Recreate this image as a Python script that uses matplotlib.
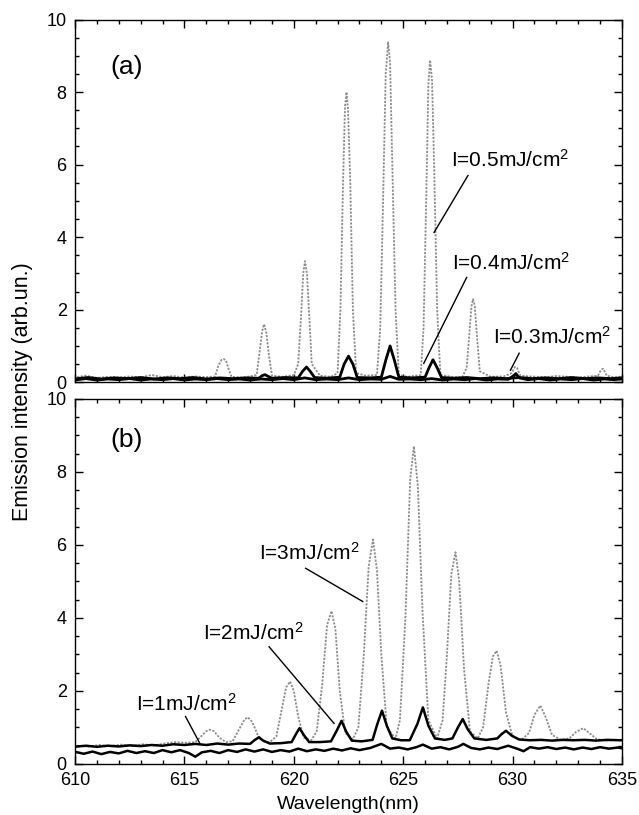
import matplotlib
matplotlib.use("Agg")
import matplotlib.pyplot as plt
from matplotlib.ticker import MultipleLocator

plt.rcParams['font.family'] = ['Liberation Sans', 'DejaVu Sans']
plt.rcParams['mathtext.fontset'] = 'custom'
plt.rcParams['mathtext.rm'] = 'Liberation Sans'
plt.rcParams['mathtext.it'] = 'Liberation Sans'
plt.rcParams['mathtext.default'] = 'regular'

# ---------------- data ----------------
# Panel (a): I = 0.5 mJ/cm^2 (grey)
A_05 = [(610.1,0.14),(610.5,0.18),(611.0,0.12),(611.5,0.15),(612.0,0.13),(612.5,0.16),(613.0,0.13),
        (613.5,0.20),(614.0,0.14),(614.5,0.17),(615.0,0.13),(615.5,0.16),(616.0,0.14),(616.4,0.16),
        (616.55,0.45),(616.7,0.62),(616.8,0.64),(616.9,0.60),(617.0,0.40),(617.15,0.15),(617.6,0.13),
        (618.0,0.16),(618.3,0.20),(618.45,0.90),(618.55,1.40),(618.64,1.60),(618.75,1.35),(618.85,0.80),
        (619.0,0.18),(619.5,0.15),(620.0,0.20),(620.2,0.50),(620.33,1.80),(620.43,3.00),(620.51,3.34),
        (620.6,3.00),(620.7,1.90),(620.82,0.50),(621.2,0.18),(621.7,0.15),(622.0,0.25),(622.13,2.00),
        (622.25,5.50),(622.34,7.60),(622.41,8.00),(622.48,7.50),(622.58,5.50),(622.7,2.00),(622.85,0.25),
        (623.3,0.18),(623.8,0.20),(623.95,1.50),(624.08,5.00),(624.2,8.50),(624.31,9.39),(624.4,8.80),
        (624.52,5.50),(624.65,2.00),(624.8,0.20),(625.2,0.15),(625.8,0.20),(625.93,1.50),(626.05,5.00),
        (626.15,8.20),(626.23,8.88),(626.32,8.30),(626.43,5.50),(626.55,2.00),(626.7,0.20),(627.2,0.15),
        (627.7,0.14),(627.9,0.40),(628.02,1.30),(628.12,2.10),(628.19,2.29),(628.27,2.10),(628.37,1.30),
        (628.5,0.30),(629.0,0.15),(629.6,0.16),(629.95,0.25),(630.1,0.42),(630.2,0.40),(630.35,0.18),
        (630.8,0.16),(631.5,0.14),(632.0,0.17),(632.5,0.15),(633.0,0.13),(633.5,0.16),(633.9,0.18),
        (634.05,0.35),(634.15,0.37),(634.3,0.18),(634.6,0.14),(635.0,0.15)]

# Panel (a): I = 0.4 mJ/cm^2 (black)
A_04 = [(610.1,0.10),(610.6,0.13),(611.2,0.09),(611.8,0.12),(612.4,0.10),(613.0,0.13),(613.6,0.09),
        (614.2,0.12),(614.8,0.10),(615.4,0.13),(616.0,0.09),(616.6,0.12),(617.2,0.10),(617.8,0.12),
        (618.4,0.11),(618.55,0.18),(618.68,0.21),(618.8,0.17),(619.0,0.11),(619.6,0.13),(620.2,0.12),
        (620.4,0.30),(620.58,0.42),(620.75,0.30),(620.95,0.13),(621.5,0.11),(622.1,0.14),(622.3,0.50),
        (622.5,0.72),(622.7,0.50),(622.9,0.13),(623.5,0.12),(624.0,0.14),(624.2,0.60),(624.4,1.00),
        (624.6,0.60),(624.8,0.14),(625.4,0.12),(626.0,0.14),(626.18,0.40),(626.36,0.62),(626.55,0.40),
        (626.75,0.13),(627.3,0.11),(627.9,0.13),(628.5,0.10),(629.1,0.12),(629.7,0.10),(630.3,0.13),
        (630.9,0.10),(631.5,0.12),(632.1,0.10),(632.7,0.13),(633.3,0.10),(633.9,0.12),(634.5,0.10),
        (635.0,0.12)]

# Panel (a): I = 0.3 mJ/cm^2 (black)
A_03 = [(610.1,0.07),(610.5,0.10),(611.0,0.06),(611.5,0.09),(612.0,0.07),(612.5,0.10),(613.0,0.06),
        (613.5,0.09),(614.0,0.07),(614.5,0.10),(615.0,0.06),(615.5,0.09),(616.0,0.07),(616.5,0.10),
        (617.0,0.07),(617.5,0.09),(618.0,0.06),(618.5,0.09),(619.0,0.07),(619.5,0.10),(620.0,0.07),
        (620.5,0.12),(621.0,0.07),(621.5,0.09),(622.0,0.07),(622.5,0.12),(623.0,0.07),(623.5,0.09),
        (624.0,0.08),(624.4,0.16),(624.8,0.08),(625.3,0.09),(625.8,0.07),(626.3,0.10),(626.8,0.06),
        (627.3,0.09),(627.8,0.07),(628.3,0.10),(628.8,0.06),(629.3,0.09),(629.8,0.08),(630.05,0.18),
        (630.15,0.24),(630.3,0.12),(630.7,0.07),(631.2,0.10),(631.7,0.06),(632.2,0.09),(632.7,0.07),
        (633.2,0.10),(633.7,0.06),(634.2,0.09),(634.6,0.07),(635.0,0.09)]

# Panel (b): I = 3 mJ/cm^2 (grey)
B_3 = [(610.1,0.50),(610.6,0.48),(611.1,0.52),(611.6,0.49),(612.1,0.53),(612.6,0.50),(613.1,0.54),
       (613.6,0.51),(614.1,0.56),(614.6,0.60),(615.1,0.58),(615.5,0.60),(615.8,0.78),(616.0,0.90),
       (616.16,0.94),(616.35,0.90),(616.6,0.72),(616.9,0.60),(617.2,0.62),(617.5,0.95),(617.75,1.22),
       (617.9,1.28),(618.1,1.15),(618.35,0.80),(618.6,0.62),(618.9,0.60),(619.2,0.75),(619.45,1.50),
       (619.65,2.10),(619.83,2.26),(620.0,2.00),(620.2,1.30),(620.45,0.72),(620.8,0.65),(621.05,0.90),
       (621.3,2.20),(621.52,3.80),(621.72,4.19),(621.9,3.70),(622.1,2.00),(622.35,0.85),(622.7,0.68),
       (622.95,1.00),(623.2,3.00),(623.42,5.40),(623.62,6.15),(623.8,5.30),(624.0,3.00),(624.25,1.00),
       (624.65,0.70),(624.85,1.20),(625.1,4.00),(625.32,7.80),(625.49,8.70),(625.67,7.60),(625.88,4.20),
       (626.15,1.20),(626.55,0.70),(626.8,1.20),(627.0,3.00),(627.2,5.20),(627.39,5.80),(627.56,5.00),
       (627.78,2.60),(628.05,0.90),(628.4,0.70),(628.65,1.00),(628.9,2.20),(629.1,2.95),(629.27,3.10),
       (629.45,2.70),(629.7,1.40),(630.0,0.75),(630.4,0.66),(630.75,0.85),(631.0,1.35),(631.27,1.60),
       (631.5,1.30),(631.8,0.80),(632.2,0.66),(632.6,0.70),(632.9,0.88),(633.23,0.98),(633.5,0.85),
       (633.85,0.68),(634.3,0.64),(634.7,0.66),(635.0,0.64)]

# Panel (b): I = 2 mJ/cm^2 (black)
B_2 = [(610.1,0.48),(610.5,0.50),(611.0,0.47),(611.5,0.50),(612.0,0.48),(612.5,0.51),(613.0,0.49),
       (613.5,0.52),(614.0,0.50),(614.5,0.54),(615.0,0.52),(615.5,0.55),(616.0,0.52),(616.5,0.56),
       (617.0,0.53),(617.5,0.56),(618.0,0.55),(618.2,0.65),(618.4,0.73),(618.6,0.64),(618.9,0.56),
       (619.4,0.57),(619.9,0.60),(620.1,0.82),(620.26,0.98),(620.45,0.80),(620.7,0.60),(621.2,0.60),
       (621.7,0.62),(621.95,0.90),(622.18,1.18),(622.4,0.88),(622.65,0.64),(623.1,0.62),(623.6,0.66),
       (623.82,1.10),(624.03,1.46),(624.25,1.05),(624.5,0.70),(624.9,0.65),(625.3,0.65),(625.65,1.10),
       (625.9,1.55),(626.15,1.05),(626.45,0.70),(626.9,0.66),(627.25,0.70),(627.5,1.00),(627.72,1.23),
       (627.95,0.95),(628.25,0.70),(628.8,0.66),(629.3,0.70),(629.5,0.82),(629.7,0.91),(629.95,0.78),
       (630.3,0.67),(630.8,0.65),(631.3,0.66),(631.8,0.64),(632.3,0.66),(632.8,0.65),(633.3,0.66),
       (633.8,0.64),(634.3,0.66),(635.0,0.65)]

# Panel (b): I = 1 mJ/cm^2 (black)
B_1 = [(610.1,0.32),(610.4,0.28),(610.8,0.34),(611.2,0.27),(611.6,0.33),(612.0,0.29),(612.4,0.36),
       (612.8,0.30),(613.2,0.35),(613.6,0.30),(614.0,0.38),(614.4,0.32),(614.8,0.38),(615.2,0.30),
       (615.5,0.20),(615.8,0.32),(616.2,0.36),(616.6,0.30),(617.0,0.38),(617.4,0.33),(617.8,0.40),
       (618.2,0.34),(618.6,0.40),(619.0,0.33),(619.4,0.38),(619.8,0.34),(620.2,0.42),(620.6,0.35),
       (621.0,0.40),(621.4,0.36),(621.8,0.42),(622.2,0.37),(622.6,0.43),(623.0,0.38),(623.5,0.44),
       (624.0,0.55),(624.4,0.42),(624.8,0.45),(625.2,0.40),(625.6,0.46),(625.9,0.53),(626.3,0.42),
       (626.7,0.46),(627.1,0.40),(627.5,0.47),(627.75,0.55),(628.1,0.44),(628.5,0.40),(628.9,0.45),
       (629.3,0.41),(629.8,0.50),(630.2,0.42),(630.5,0.35),(630.8,0.46),(631.2,0.42),(631.6,0.46),
       (632.0,0.41),(632.4,0.45),(632.8,0.40),(633.2,0.45),(633.6,0.41),(634.0,0.46),(634.4,0.42),
       (634.8,0.45),(635.0,0.43)]

x_ticks = [610, 615, 620, 625, 630, 635]
y_ticks = [0, 2, 4, 6, 8, 10]
labels_a = ["I=0.5mJ/cm$^{2}$", "I=0.4mJ/cm$^{2}$", "I=0.3mJ/cm$^{2}$"]
labels_b = ["I=3mJ/cm$^{2}$", "I=2mJ/cm$^{2}$", "I=1mJ/cm$^{2}$"]

# ---------------- figure ----------------
fig = plt.figure(figsize=(6.39, 8.15), dpi=100)
ax_a = fig.add_axes([0.1174, 0.531, 0.856, 0.445])
ax_b = fig.add_axes([0.1174, 0.0626, 0.856, 0.448])

GREY = '#8c8c8c'

def style(ax, show_xlabels):
    ax.set_xlim(610, 635)
    ax.set_ylim(0, 10)
    ax.set_xticks(x_ticks)
    ax.set_yticks(y_ticks)
    ax.xaxis.set_minor_locator(MultipleLocator(1))
    ax.yaxis.set_minor_locator(MultipleLocator(0.5))
    ax.tick_params(which='both', direction='in', top=True, right=True, width=1)
    ax.tick_params(which='major', length=6, labelsize=13, pad=6)
    ax.tick_params(which='minor', length=3)
    if not show_xlabels:
        ax.tick_params(axis='x', labelbottom=False)
    for s in ax.spines.values():
        s.set_linewidth(1.0)

def curve(ax, pts, color, lw, ls='-'):
    xs = [p[0] for p in pts]
    ys = [p[1] for p in pts]
    ax.plot(xs, ys, color=color, lw=lw, ls=ls, solid_joinstyle='round')

# panel (a)
curve(ax_a, A_05, GREY, 1.3, (0, (1.2, 0.8)))
curve(ax_a, A_03, 'black', 2.0)
curve(ax_a, A_04, 'black', 2.0)
style(ax_a, False)
ax_a.text(611.6, 8.7, "(a)", fontsize=19, va='center', ha='left')
ax_a.text(627.18, 6.12, labels_a[0], fontsize=15, va='center', ha='left')
ax_a.plot([627.96, 626.41], [5.70, 4.13], color='black', lw=1)
ax_a.text(627.23, 3.28, labels_a[1], fontsize=15, va='center', ha='left')
ax_a.plot([627.9, 625.94], [2.89, 0.52], color='black', lw=1)
ax_a.text(629.1, 1.24, labels_a[2], fontsize=15, va='center', ha='left')
ax_a.plot([630.3, 629.9], [0.80, 0.33], color='black', lw=1)

# panel (b)
curve(ax_b, B_3, GREY, 1.3, (0, (1.2, 0.8)))
curve(ax_b, B_1, 'black', 1.8)
curve(ax_b, B_2, 'black', 1.8)
style(ax_b, True)
ax_b.text(611.6, 8.88, "(b)", fontsize=19, va='center', ha='left')
ax_b.text(618.4, 5.78, labels_b[0], fontsize=15, va='center', ha='left')
ax_b.plot([620.54, 623.15], [5.36, 4.45], color='black', lw=1)
ax_b.text(615.83, 3.58, labels_b[1], fontsize=15, va='center', ha='left')
ax_b.plot([618.87, 621.84], [3.21, 1.11], color='black', lw=1)
ax_b.text(612.77, 1.66, labels_b[2], fontsize=15, va='center', ha='left')
ax_b.plot([615.05, 615.70], [1.30, 0.57], color='black', lw=1)
ax_b.set_xlabel("Wavelength(nm)", fontsize=14, labelpad=5)

fig.text(0.035, 0.52, "Emission intensity (arb.un.)", rotation=90,
         fontsize=15.5, va='center', ha='center')

fig.savefig("out.png", dpi=100)
